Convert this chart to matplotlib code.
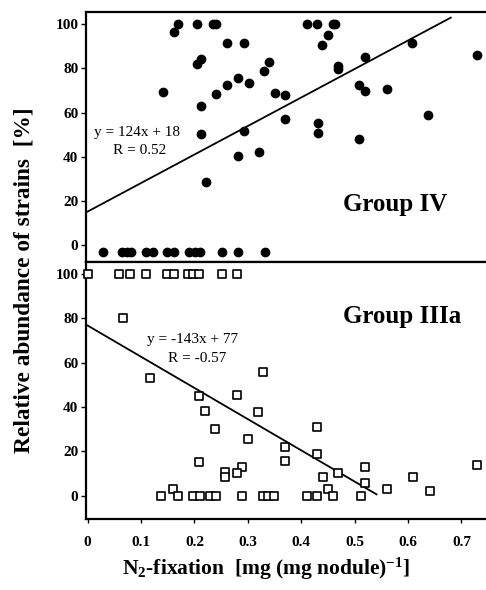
import numpy as np
import matplotlib
matplotlib.use("Agg")
import matplotlib.pyplot as plt

plt.rcParams['font.family'] = ['Liberation Serif', 'DejaVu Serif']
plt.rcParams['mathtext.fontset'] = 'custom'
plt.rcParams['mathtext.rm'] = 'Liberation Serif:bold'
plt.rcParams['mathtext.bf'] = 'Liberation Serif:bold'
plt.rcParams['mathtext.default'] = 'bf'

#%% datos Group IV (circulos llenos)
g4_x = [0.162, 0.170, 0.204, 0.234, 0.240, 0.410, 0.430, 0.460, 0.464,
        0.451, 0.439, 0.261, 0.292, 0.608, 0.730, 0.519, 0.212, 0.204,
        0.340, 0.331, 0.469, 0.469, 0.282, 0.303, 0.261, 0.142, 0.240,
        0.350, 0.370, 0.509, 0.519, 0.561, 0.212, 0.370, 0.431, 0.431,
        0.292, 0.212, 0.638, 0.509, 0.321, 0.281, 0.222,
        0.028, 0.064, 0.073, 0.082, 0.110, 0.122, 0.149, 0.162, 0.190,
        0.201, 0.210, 0.251, 0.281, 0.332]
g4_y = [96.5, 100, 100, 100, 100, 100, 100, 100, 100,
        95.3, 90.4, 91.4, 91.4, 91.5, 86.0, 85.2, 84.5, 81.8,
        82.7, 78.9, 80.9, 79.6, 75.9, 73.2, 72.4, 69.4, 68.6,
        68.9, 67.9, 72.7, 70.0, 70.7, 62.9, 56.9, 55.3, 51.0,
        51.7, 50.4, 59.1, 48.1, 42.2, 40.3, 28.4,
        -3, -3, -3, -3, -3, -3, -3, -3, -3,
        -3, -3, -3, -3, -3]
g4_fit_x = [0.0, 0.68]
g4_fit_y = [15.2, 103.0]

#%% datos Group IIIa (cuadrados vacios)
g3_x = [0.0, 0.059, 0.079, 0.110, 0.149, 0.162, 0.188, 0.198, 0.208, 0.251, 0.279,
        0.067, 0.117, 0.328, 0.208, 0.279, 0.219, 0.319, 0.239, 0.430,
        0.301, 0.370, 0.430, 0.370, 0.208, 0.290, 0.279, 0.258, 0.258,
        0.469, 0.519, 0.441, 0.519, 0.451, 0.561, 0.610, 0.641, 0.730, 0.160,
        0.138, 0.170, 0.198, 0.210, 0.229, 0.240, 0.290, 0.328, 0.337, 0.349,
        0.410, 0.430, 0.460, 0.512]
g3_y = [100, 100, 100, 100, 100, 100, 100, 100, 100, 100, 100,
        80.0, 52.9, 55.6, 44.9, 45.5, 38.4, 37.9, 30.3, 30.9,
        25.7, 21.8, 19.0, 15.7, 15.1, 13.1, 10.3, 10.7, 8.3,
        10.3, 13.1, 8.3, 5.9, 3.0, 3.2, 8.3, 2.0, 14.0, 3.2,
        0, 0, 0, 0, 0, 0, 0, 0, 0, 0,
        0, 0, 0, 0]
g3_fit_x = [0.0, 0.541]
g3_fit_y = [76.8, 0.6]

yticks = [0, 20, 40, 60, 80, 100]
xticks = [0, 0.1, 0.2, 0.3, 0.4, 0.5, 0.6, 0.7]
xticklabels = ['0', '0.1', '0.2', '0.3', '0.4', '0.5', '0.6', '0.7']

#%% figura
fig = plt.figure(figsize=(4.86, 5.90), dpi=100)
ax1 = fig.add_axes([0.177, 0.5564, 0.823, 0.4238])
ax2 = fig.add_axes([0.177, 0.1195, 0.823, 0.4369])

tfont = dict(family='Liberation Serif', fontsize=11, fontweight='bold')

for ax in (ax1, ax2):
    ax.set_xlim(-0.003, 0.746)
    ax.set_yticks(yticks)
    ax.set_yticklabels([str(v) for v in yticks], **tfont)
    ax.spines['right'].set_visible(False)
    for s in ('left', 'top', 'bottom'):
        ax.spines[s].set_linewidth(1.6)
    ax.tick_params(axis='y', direction='out', length=3.5, width=1.0, pad=2)

ax1.set_ylim(-7.5, 105.7)
ax2.set_ylim(-10.75, 105.6)
ax1.set_xticks([])
ax2.set_xticks(xticks)
ax2.set_xticklabels(xticklabels, **tfont)
ax2.tick_params(axis='x', direction='out', length=3, width=1.0, pad=9)

ax1.scatter(g4_x, g4_y, s=36, c='black', marker='o', zorder=3, clip_on=False)
ax1.plot(g4_fit_x, g4_fit_y, color='black', lw=1.3)

ax2.scatter(g3_x, g3_y, s=28, facecolors='white', edgecolors='black', marker='s',
            linewidths=1.2, zorder=3, clip_on=False)
ax2.plot(g3_fit_x, g3_fit_y, color='black', lw=1.3)

ax1.text(0.092, 51.1, 'y = 124x + 18', ha='center', va='center', fontsize=11)
ax1.text(0.098, 43.0, 'R = 0.52', ha='center', va='center', fontsize=11)
ax1.text(0.576, 18.6, 'Group IV', ha='center', va='center', fontsize=18, fontweight='bold')

ax2.text(0.197, 70.3, 'y = -143x + 77', ha='center', va='center', fontsize=11)
ax2.text(0.205, 61.7, 'R = -0.57', ha='center', va='center', fontsize=11)
ax2.text(0.589, 80.7, 'Group IIIa', ha='center', va='center', fontsize=18, fontweight='bold')

fig.text(0.049, 0.525, 'Relative abundance of strains  [%]', rotation=90,
         ha='center', va='center', fontsize=16.8, fontweight='bold')
fig.text(0.547, 0.035, r'N$_2$-fixation  [mg (mg nodule)$^{-1}$]',
         ha='center', va='center', fontsize=15.5, fontweight='bold')

fig.savefig('out.png', dpi=100)
